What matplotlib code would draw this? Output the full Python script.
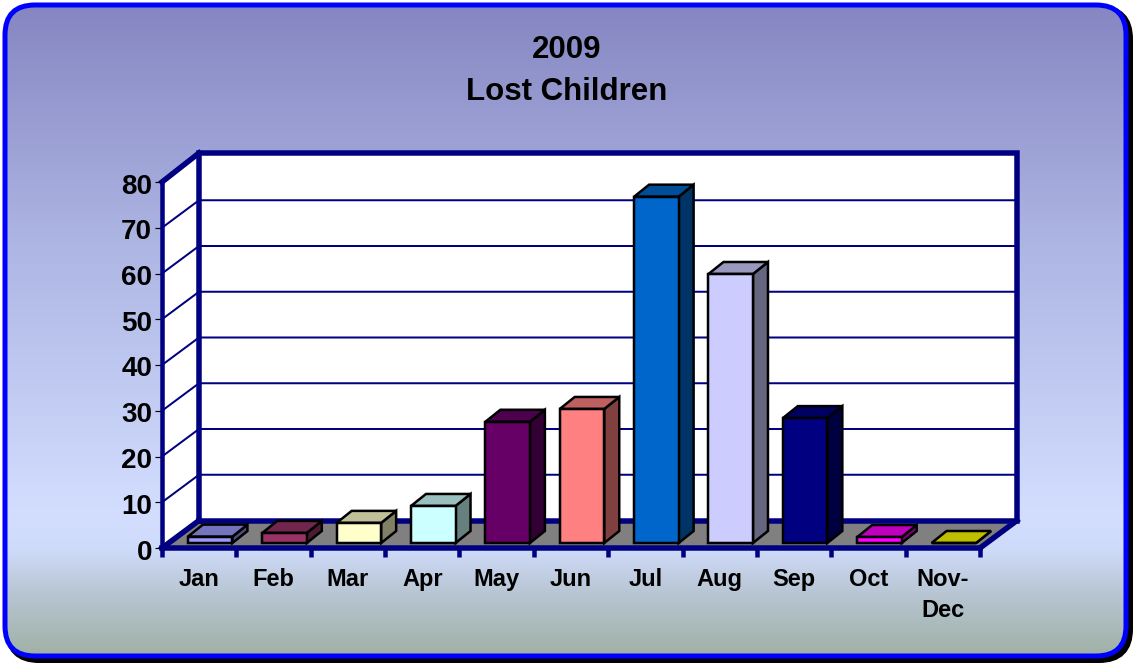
import numpy as np
import matplotlib
matplotlib.use("Agg")
import matplotlib.pyplot as plt
from matplotlib.patches import Polygon, FancyBboxPatch
from matplotlib.colors import LinearSegmentedColormap, to_rgb
from matplotlib.transforms import ScaledTranslation

title_lines = ["2009", "Lost Children"]
categories = ["Jan", "Feb", "Mar", "Apr", "May", "Jun", "Jul", "Aug", "Sep", "Oct", "Nov-\nDec"]
values = [1.4, 2.2, 4.4, 8.1, 26.5, 29.3, 75.7, 58.8, 27.3, 1.3, 0.0]
bar_colors = ["#9999FF", "#993366", "#FFFFCC", "#CCFFFF", "#660066", "#FF8080",
              "#0066CC", "#CCCCFF", "#000080", "#FF00FF", "#FFFF00"]
y_ticks = [0, 10, 20, 30, 40, 50, 60, 70, 80]

W, H = 1134, 664
NAVY = "#000080"
PT = 0.72  # one pixel in points at dpi 100

plt.rcParams["font.family"] = ["Liberation Sans", "DejaVu Sans"]
fig = plt.figure(figsize=(W / 100, H / 100), dpi=100, facecolor="white")

# background panel
bg = fig.add_axes([0, 0, 1, 1], zorder=0)
bg.set_xlim(0, W); bg.set_ylim(H, 0); bg.axis("off")
bg.add_patch(FancyBboxPatch((9, 9), W - 9 - 5, H - 9 - 5,
                            boxstyle="round,pad=0,rounding_size=30", fc="black", ec="black",
                            lw=8 * PT, zorder=1))
panel_kw = dict(boxstyle="round,pad=0,rounding_size=30")
clip = FancyBboxPatch((5, 5), W - 5 - 8, H - 5 - 8, fc="none", ec="none", lw=0, **panel_kw,
                      transform=bg.transData)
cmap = LinearSegmentedColormap.from_list("panel", [
    (0.0, (134 / 255, 134 / 255, 194 / 255)),
    (0.35, (172 / 255, 180 / 255, 226 / 255)),
    (0.78, (211 / 255, 222 / 255, 255 / 255)),
    (0.83, (207 / 255, 219 / 255, 250 / 255)),
    (0.90, (183 / 255, 197 / 255, 210 / 255)),
    (1.0, (158 / 255, 176 / 255, 162 / 255)),
])
grad = np.linspace(0, 1, 512)[:, None]
im = bg.imshow(grad, cmap=cmap, extent=(5, W - 3, H - 3, 5), aspect="auto", zorder=1.5)
bg.set_xlim(0, W); bg.set_ylim(H, 0)
im.set_clip_path(clip)
bg.add_patch(FancyBboxPatch((5, 5), W - 5 - 8, H - 5 - 8, fc="none", ec="#0000FF",
                            lw=5 * PT, **panel_kw, zorder=3))

# main axes: the front plane of the chart
x0, x1, y_bot, y_top = 162, 980, 548, 182
ax = fig.add_axes([x0 / W, 1 - y_bot / H, (x1 - x0) / W, (y_bot - y_top) / H], zorder=1)
ax.patch.set_alpha(0)
n = len(categories)
ax.set_xlim(0, n); ax.set_ylim(0, 80)
ux = n / (x1 - x0)          # data units per pixel
uy = 80 / (y_bot - y_top)
wall_dx, wall_dy = 37 * ux, 27.5 * uy
wall_top = 80 + wall_dy + 1.5 * uy

# walls and floor
ax.add_patch(Polygon([(wall_dx, wall_dy), (wall_dx, wall_top), (n + wall_dx, wall_top),
                      (n + wall_dx, wall_dy)], fc="white", ec="none", zorder=1, clip_on=False))
ax.add_patch(Polygon([(0, 0), (0, 80), (wall_dx, wall_top), (wall_dx, wall_dy)],
                     fc="white", ec="none", zorder=1, clip_on=False))
ax.add_patch(Polygon([(0, 0), (wall_dx, wall_dy), (n + wall_dx, wall_dy), (n, 0)],
                     fc="#808080", ec="none", zorder=1.2, clip_on=False))
for v in y_ticks[1:-1]:
    ax.plot([0, wall_dx, n + wall_dx], [v, v + wall_dy, v + wall_dy], color=NAVY,
            lw=2 * PT, zorder=1.1, clip_on=False)
frame_kw = dict(color=NAVY, lw=5.5 * PT, zorder=1.5, clip_on=False, solid_capstyle="projecting",
                solid_joinstyle="miter")
ax.plot([wall_dx, wall_dx, n + wall_dx, n + wall_dx, wall_dx],
        [wall_dy, wall_top, wall_top, wall_dy, wall_dy], **frame_kw)
ax.plot([0, wall_dx], [80, wall_top], **frame_kw)
ax.plot([0, wall_dx], [0, wall_dy], **frame_kw)
ax.plot([n, n + wall_dx], [0, wall_dy], **frame_kw)

# bars
bar_w = 44.5 * ux
off_x, off_y = 11 * ux - bar_w / 2, 5 * uy
dep_x, dep_y = 15 * ux, 12 * uy
centers = np.arange(n) + 0.5
edge = dict(ec="black", lw=2.5 * PT, joinstyle="miter", zorder=3, clip_on=False)
for c, v, col in zip(centers, values, bar_colors):
    rgb = np.array(to_rgb(col))
    l = c + off_x; r = l + bar_w; b = off_y; t = off_y + v
    ax.add_patch(Polygon([(r, b), (r + dep_x, b + dep_y), (r + dep_x, t + dep_y), (r, t)],
                         fc=rgb * 0.5, **edge))
    ax.add_patch(Polygon([(l, t), (l + dep_x, t + dep_y), (r + dep_x, t + dep_y), (r, t)],
                         fc=rgb * 0.75, **edge))
    ax.bar(l, v, width=bar_w, bottom=b, align="edge", color=col, edgecolor="black",
           linewidth=2.5 * PT, zorder=3.1, clip_on=False)

# axes, ticks
for s in ("top", "right"):
    ax.spines[s].set_visible(False)
for s in ("left", "bottom"):
    ax.spines[s].set_color(NAVY)
    ax.spines[s].set_zorder(2)
    ax.spines[s].set_capstyle("projecting")
ax.spines["left"].set_linewidth(4.5 * PT)
ax.spines["bottom"].set_linewidth(5.5 * PT)
ax.set_yticks(y_ticks)
ax.set_yticklabels([str(v) for v in y_ticks], fontsize=20, fontweight="bold", color="black")
ax.tick_params(axis="y", length=7 * PT, width=1.2 * PT, color="black", pad=3 * PT)
shift = ScaledTranslation(0, -1.5 * PT / 72, fig.dpi_scale_trans)
for lbl in ax.get_yticklabels():
    lbl.set_transform(lbl.get_transform() + shift)
ax.set_xticks(np.arange(n + 1))
ax.set_xticklabels([""] * (n + 1))
ax.tick_params(axis="x", length=9 * PT, width=4.5 * PT, color=NAVY)
for c, lab in zip(centers, categories):
    ax.annotate(lab, (c, 0), xytext=(0, -(568 - y_bot) * PT), textcoords="offset points",
                ha="center", va="top", fontsize=17, fontweight="bold", color="black",
                linespacing=1.42, annotation_clip=False)

# title
fig.text(567 / W, 1 - 46.5 / H, title_lines[0], ha="center", va="center_baseline", fontsize=22.5,
         fontweight="bold", color="black")
fig.text(567 / W, 1 - 88 / H, title_lines[1], ha="center", va="center_baseline", fontsize=22.5,
         fontweight="bold", color="black")

fig.savefig("out.png", dpi=100)
